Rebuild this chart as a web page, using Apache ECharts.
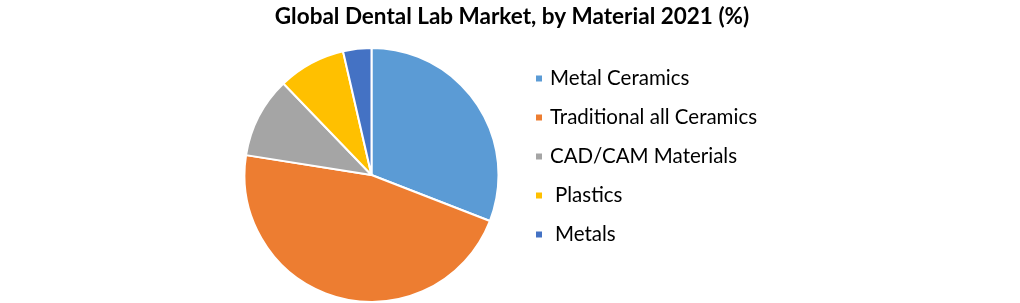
<!DOCTYPE html>
<html>
<head>
<meta charset="utf-8">
<script src="https://cdn.jsdelivr.net/npm/echarts@6/dist/echarts.min.js"></script>
<style>
html,body{margin:0;padding:0;background:#fff;}
#chart{width:1020px;height:303px;}
</style>
</head>
<body>
<div id="chart"></div>
<script>
var categories = ["Metal Ceramics", "Traditional all Ceramics", "CAD/CAM Materials", "Plastics", "Metals"];
var shares = [30.9, 46.6, 10.3, 8.6, 3.6];
var colors = ["#5B9BD5", "#ED7D31", "#A5A5A5", "#FFC000", "#4472C4"];
var titleText = "Global Dental Lab Market, by Material 2021 (%)";

var data = categories.map(function (c, i) {
  return { name: c, value: shares[i], itemStyle: { color: colors[i] } };
});

var chart = echarts.init(document.getElementById('chart'));
chart.setOption({
  animation: false,
  backgroundColor: '#ffffff',
  title: {
    text: titleText,
    left: 512,
    textAlign: 'center',
    top: 5,
    padding: 0,
    textStyle: { fontFamily: 'Lato', fontWeight: 'bold', fontSize: 22.5, color: '#000' }
  },
  legend: {
    orient: 'vertical',
    left: 534,
    top: 68,
    padding: 0,
    itemWidth: 8,
    itemHeight: 8,
    itemGap: 18,
    icon: 'rect',
    formatter: function (name) {
      var idx = categories.indexOf(name);
      return (idx >= 3 ? '{b|' : '{a|') + name + '}';
    },
    textStyle: {
      fontFamily: 'Lato', fontSize: 20.5, color: '#000', lineHeight: 21,
      rich: {
        a: { fontFamily: 'Lato', fontSize: 20.5, color: '#000', lineHeight: 21, padding: [0, 0, 0, 2] },
        b: { fontFamily: 'Lato', fontSize: 20.5, color: '#000', lineHeight: 21, padding: [0, 0, 0, 7] }
      }
    },
    data: categories
  },
  series: [{
    type: 'pie',
    center: [371.5, 175],
    radius: [0, 127],
    startAngle: 90,
    clockwise: true,
    label: { show: false },
    labelLine: { show: false },
    emphasis: { disabled: true },
    itemStyle: { borderColor: '#ffffff', borderWidth: 2 },
    data: data
  }]
});
</script>
</body>
</html>
